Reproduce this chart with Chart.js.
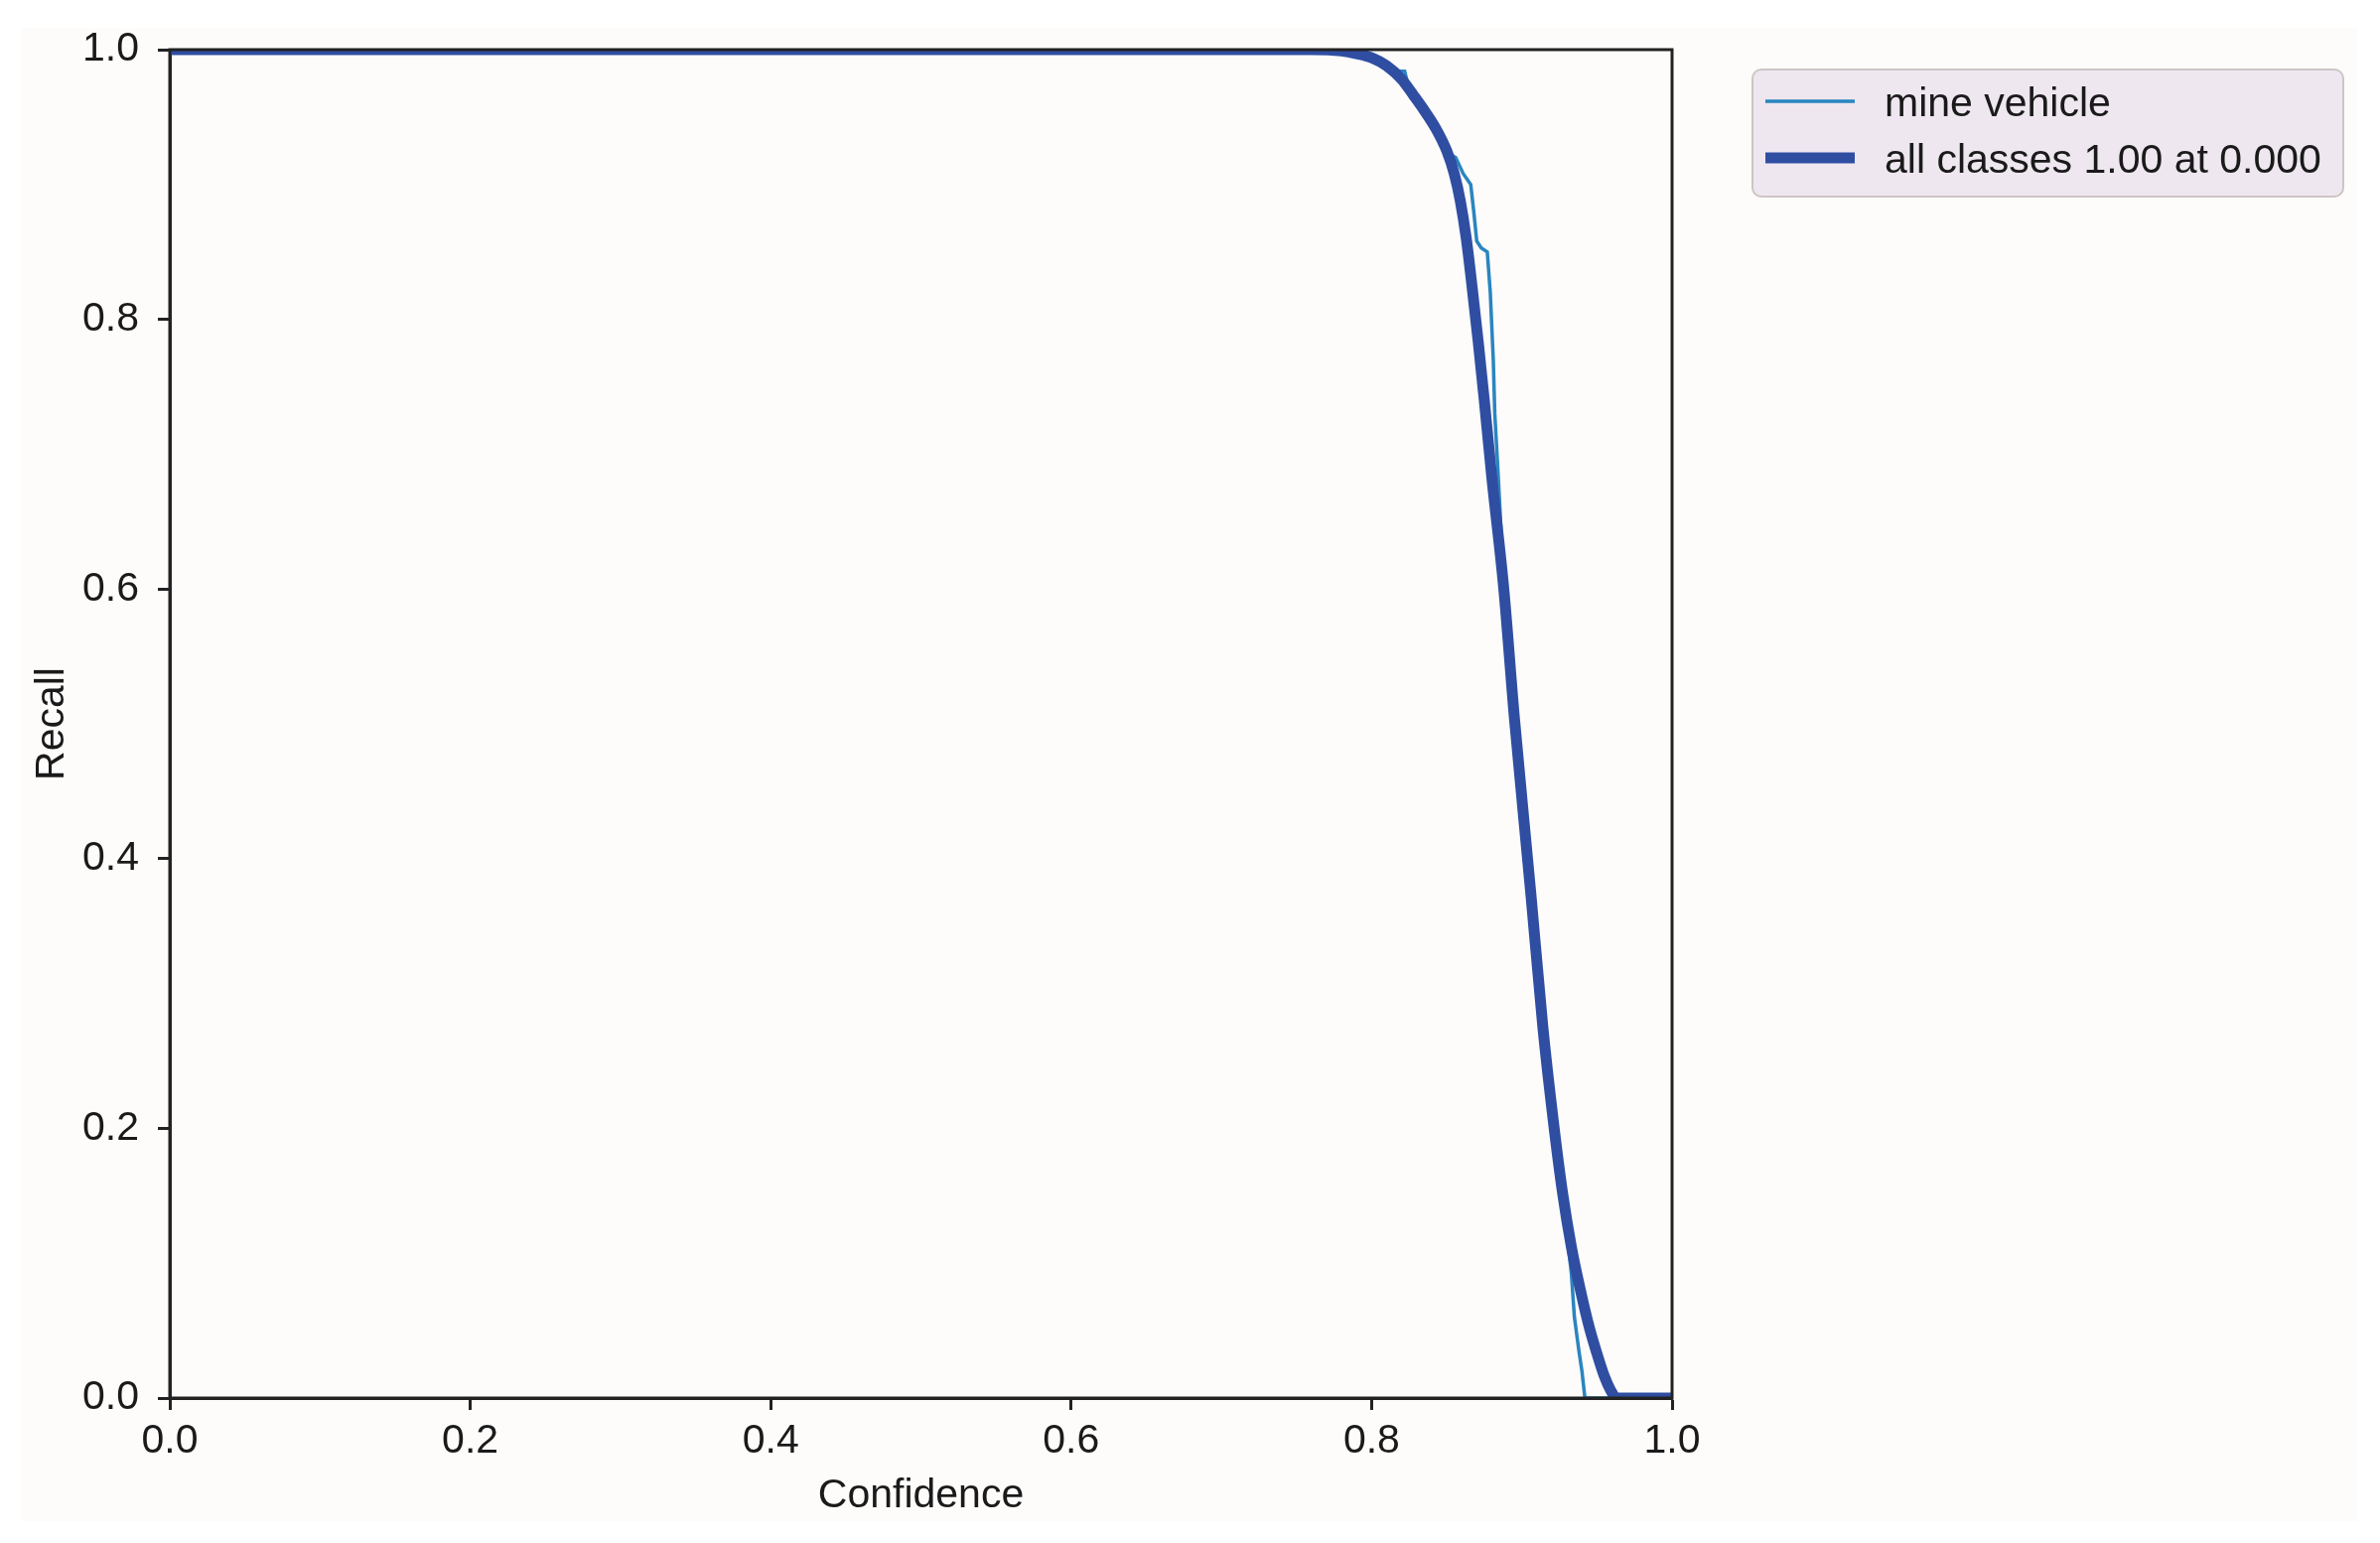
<!DOCTYPE html>
<html>
<head>
<meta charset="utf-8">
<script src="https://cdn.jsdelivr.net/npm/chart.js@4.4.0/dist/chart.umd.min.js"></script>
<style>
  html, body { margin: 0; padding: 0; background: #ffffff; }
  canvas { display: block; }
</style>
</head>
<body>
<canvas id="grafica" width="2397" height="1554"></canvas>
<script>
// Valores
const tickValues = [0, 0.2, 0.4, 0.6, 0.8, 1.0];

const mineConf = [0, 0.76, 0.78, 0.79, 0.80, 0.81, 0.818, 0.822, 0.824, 0.835, 0.845, 0.853, 0.856, 0.861, 0.866, 0.868, 0.870, 0.873, 0.877, 0.879, 0.881, 0.882, 0.884, 0.888, 0.895, 0.906, 0.914, 0.921, 0.927, 0.933, 0.935, 0.938, 0.940, 0.942, 1.0];
const mineRecall = [1, 1, 0.999, 0.997, 0.994, 0.988, 0.984, 0.984, 0.975, 0.957, 0.940, 0.922, 0.920, 0.908, 0.900, 0.880, 0.858, 0.853, 0.850, 0.820, 0.770, 0.730, 0.690, 0.605, 0.500, 0.374, 0.275, 0.205, 0.153, 0.092, 0.060, 0.035, 0.020, 0, 0];

const allConf = [0, 0.76, 0.78, 0.79, 0.80, 0.81, 0.82, 0.828, 0.835, 0.843, 0.850, 0.855, 0.859, 0.863, 0.867, 0.871, 0.875, 0.880, 0.888, 0.895, 0.906, 0.914, 0.921, 0.927, 0.933, 0.939, 0.945, 0.950, 0.955, 0.959, 0.963, 1.0];
const allRecall = [1, 1, 0.999, 0.997, 0.994, 0.988, 0.978, 0.966, 0.955, 0.941, 0.925, 0.908, 0.888, 0.860, 0.823, 0.783, 0.740, 0.683, 0.600, 0.505, 0.374, 0.275, 0.205, 0.153, 0.112, 0.080, 0.052, 0.033, 0.016, 0.006, 0, 0];

const COLORES = {
    clase: '#2a85c0',
    todas: '#2f4ea2',
    texto: '#1a1a1a',
    eje: '#222222',
    fondo: '#fdfcfb',
    leyendaFondo: '#eee7ef',
    leyendaBorde: '#cdc5c5'
};

const FUENTE = { family: "'Liberation Sans', Arial, sans-serif", size: 41 };

function puntos(xs, ys) {
    return xs.map((x, i) => ({ x: x, y: ys[i] }));
}

// Fondo de la figura
const pluginFondo = {
    id: 'fondo',
    beforeDraw(chart) {
        const ctx = chart.ctx;
        ctx.save();
        ctx.fillStyle = '#ffffff';
        ctx.fillRect(0, 0, chart.width, chart.height);
        ctx.fillStyle = COLORES.fondo;
        ctx.fillRect(22, 28, chart.width - 44, chart.height - 50);
        ctx.restore();
    }
};

// Marco (spines) por encima de las líneas
const pluginMarco = {
    id: 'marco',
    afterDatasetsDraw(chart) {
        const { ctx, chartArea: a } = chart;
        ctx.save();
        ctx.strokeStyle = COLORES.eje;
        ctx.lineWidth = 3;
        ctx.strokeRect(a.left, a.top, a.right - a.left, a.bottom - a.top);
        ctx.restore();
    }
};

// Leyenda al estilo matplotlib, fuera del área
const pluginLeyenda = {
    id: 'leyendaMpl',
    afterDraw(chart) {
        const ctx = chart.ctx;
        const x0 = 1765, y0 = 70, w = 595, h = 128, r = 9;
        ctx.save();
        ctx.beginPath();
        ctx.roundRect(x0, y0, w, h, r);
        ctx.fillStyle = COLORES.leyendaFondo;
        ctx.fill();
        ctx.lineWidth = 2;
        ctx.strokeStyle = COLORES.leyendaBorde;
        ctx.stroke();

        const filas = [102, 159];
        ctx.font = `${FUENTE.size}px ${FUENTE.family}`;
        ctx.textBaseline = 'middle';
        ctx.textAlign = 'left';
        chart.data.datasets.forEach((ds, i) => {
            const y = filas[i];
            ctx.beginPath();
            ctx.moveTo(1778, y);
            ctx.lineTo(1868, y);
            ctx.strokeStyle = ds.borderColor;
            ctx.lineWidth = ds.borderWidth;
            ctx.lineCap = 'butt';
            ctx.stroke();
            ctx.fillStyle = COLORES.texto;
            ctx.fillText(ds.label, 1898, y + 4);
        });
        ctx.restore();
    }
};

const ejeComun = {
    type: 'linear',
    min: 0,
    max: 1,
    afterBuildTicks(scale) {
        scale.ticks = tickValues.map(v => ({ value: v }));
    },
    grid: {
        display: true,
        drawOnChartArea: false,
        drawTicks: true,
        tickLength: 12,
        tickWidth: 3,
        tickColor: COLORES.eje
    },
    border: { display: true, color: COLORES.eje, width: 3 }
};

const ctx = document.getElementById('grafica');
new Chart(ctx, {
    type: 'scatter',
    data: {
        datasets: [
            {
                label: 'mine vehicle',
                data: puntos(mineConf, mineRecall),
                showLine: true,
                borderColor: COLORES.clase,
                backgroundColor: COLORES.clase,
                borderWidth: 3.5,
                pointRadius: 0,
                tension: 0,
                clip: 0,
                order: 2
            },
            {
                label: 'all classes 1.00 at 0.000',
                data: puntos(allConf, allRecall),
                showLine: true,
                borderColor: COLORES.todas,
                backgroundColor: COLORES.todas,
                borderWidth: 11,
                pointRadius: 0,
                cubicInterpolationMode: 'monotone',
                borderJoinStyle: 'round',
                borderCapStyle: 'round',
                clip: 0,
                order: 1
            }
        ]
    },
    options: {
        responsive: false,
        animation: false,
        layout: { padding: { top: 50, right: 713, left: 0, bottom: 0 } },
        plugins: {
            legend: { display: false },
            tooltip: { enabled: false }
        },
        scales: {
            x: {
                ...ejeComun,
                position: 'bottom',
                afterFit(scale) { scale.height = 146; },
                ticks: {
                    color: COLORES.texto,
                    font: FUENTE,
                    padding: 7,
                    maxRotation: 0,
                    callback: v => Number(v).toFixed(1)
                },
                title: {
                    display: true,
                    text: 'Confidence',
                    color: COLORES.texto,
                    font: FUENTE,
                    padding: { top: 0, bottom: 23 }
                }
            },
            y: {
                ...ejeComun,
                position: 'left',
                afterFit(scale) { scale.width = 171; },
                ticks: {
                    color: COLORES.texto,
                    font: FUENTE,
                    padding: 19,
                    callback: v => Number(v).toFixed(1)
                },
                title: {
                    display: true,
                    text: 'Recall',
                    color: COLORES.texto,
                    font: FUENTE,
                    padding: { top: 28, bottom: 0 }
                }
            }
        }
    },
    plugins: [pluginFondo, pluginMarco, pluginLeyenda]
});
</script>
</body>
</html>
